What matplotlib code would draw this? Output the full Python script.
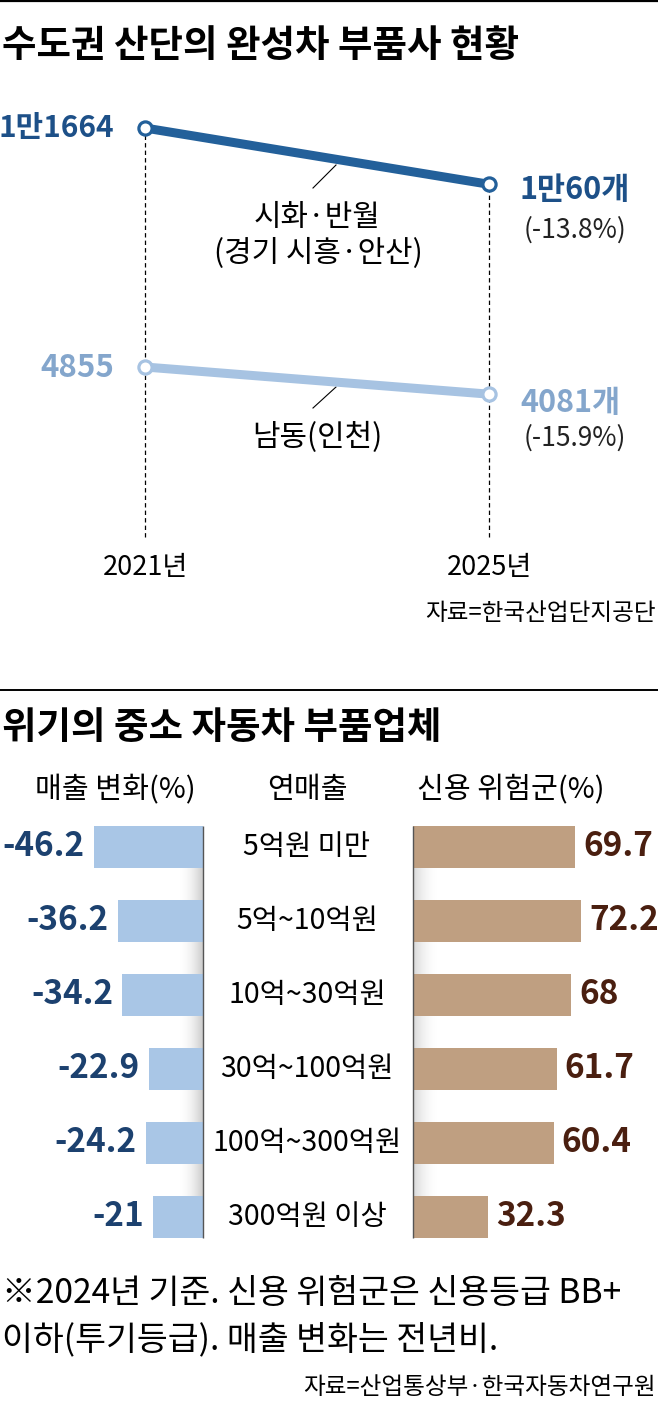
import numpy as np
import matplotlib
matplotlib.use('Agg')
import matplotlib.pyplot as plt

plt.rcParams['font.family'] = ['Noto Sans CJK KR', 'DejaVu Sans']

W, H = 658, 1419

# 위쪽 그래프: 수도권 산단 완성차 부품사 수
years = [2021, 2025]
sihwa = [11664, 10060]
namdong = [4855, 4081]
sihwa_labels = ['1만1664', '1만60개']
namdong_labels = ['4855', '4081개']
sihwa_change = '(-13.8%)'
namdong_change = '(-15.9%)'

# 아래쪽 그래프: 연매출 구간별
revenue_groups = ['5억원 미만', '5억~10억원', '10억~30억원', '30억~100억원', '100억~300억원', '300억원 이상']
sales_change = [-46.2, -36.2, -34.2, -22.9, -24.2, -21]
credit_risk = [69.7, 72.2, 68, 61.7, 60.4, 32.3]

dark_blue = '#23609a'
light_blue = '#a7c3e2'
bar_blue = '#a9c6e6'
bar_brown = '#bf9f81'
txt_blue = '#1c416f'
txt_brown = '#4a1f10'

fig = plt.figure(figsize=(W / 100, H / 100), dpi=100)
bg = fig.add_axes([0, 0, 1, 1])
bg.set_xlim(0, W)
bg.set_ylim(H, 0)
bg.axis('off')


def px_axes(left, top, right, bottom):
    a = fig.add_axes([left / W, 1 - bottom / H, (right - left) / W, (bottom - top) / H])
    a.patch.set_visible(False)
    a.axis('off')
    return a


# 구분선, 제목
bg.plot([0, W], [1, 1], color='black', lw=1.6)
bg.plot([0, W], [690, 690], color='black', lw=1.4)
bg.text(2, 45, '수도권 산단의 완성차 부품사 현황', fontsize=27, weight='bold', va='center')
bg.text(2, 727, '위기의 중소 자동차 부품업체', fontsize=27, weight='bold', va='center')

# ---- 선 그래프 ----
top_px, bot_px = 128, 537
scale = (367 - 128) / (sihwa[0] - namdong[0])
ymin = sihwa[0] - (bot_px - top_px) / scale
ax = px_axes(145, top_px, 489, bot_px)
ax.set_xlim(years[0], years[1])
ax.set_ylim(ymin, sihwa[0])

for i, yr in enumerate(years):
    ax.vlines(yr, ymin, sihwa[i], colors='black', lw=0.9, linestyles=(0, (3.5, 2.5)),
              clip_on=False, zorder=1)
    ax.annotate(f'{yr}년', xy=(yr, ymin), xytext=(0, -30), textcoords='offset pixels',
                ha='center', va='center', fontsize=19.5)

for vals, col in [(sihwa, dark_blue), (namdong, light_blue)]:
    ax.plot(years, vals, color=col, lw=6.5, solid_capstyle='butt', marker='o', ms=9.5,
            mfc='white', mec=col, mew=2.3, clip_on=False, zorder=3)

ax.annotate(sihwa_labels[0], xy=(years[0], sihwa[0]), xytext=(-31, 0), textcoords='offset pixels',
            ha='right', va='center', fontsize=21.5, weight='bold', color='#1d5088')
ax.annotate(sihwa_labels[1], xy=(years[1], sihwa[1]), xytext=(31, -6), textcoords='offset pixels',
            ha='left', va='center', fontsize=22, weight='bold', color='#1d5088')
ax.annotate(sihwa_change, xy=(years[1], sihwa[1]), xytext=(35, -46), textcoords='offset pixels',
            ha='left', va='center', fontsize=19, color='#222222')
ax.annotate(namdong_labels[0], xy=(years[0], namdong[0]), xytext=(-31, -1), textcoords='offset pixels',
            ha='right', va='center', fontsize=22.5, weight='bold', color='#84a6cc')
ax.annotate(namdong_labels[1], xy=(years[1], namdong[1]), xytext=(31, -9), textcoords='offset pixels',
            ha='left', va='center', fontsize=22, weight='bold', color='#84a6cc')
ax.annotate(namdong_change, xy=(years[1], namdong[1]), xytext=(35, -44), textcoords='offset pixels',
            ha='left', va='center', fontsize=19, color='#222222')

# 지역 이름과 지시선
bg.plot([313, 336], [188, 165], color='black', lw=0.8)
bg.text(317, 218, '시화·반월', fontsize=21.5, ha='center', va='center')
bg.text(318, 253, '(경기 시흥·안산)', fontsize=21.5, ha='center', va='center')
bg.plot([313, 336], [408, 387], color='black', lw=0.8)
bg.text(317, 437, '남동(인천)', fontsize=21.5, ha='center', va='center')
bg.text(656, 614, '자료=한국산업단지공단', fontsize=17, ha='right', va='center')

# ---- 막대 그래프 ----
bg.text(115, 790, '매출 변화(%)', fontsize=21, ha='center', va='center')
bg.text(307, 790, '연매출', fontsize=21, ha='center', va='center')
bg.text(511, 790, '신용 위험군(%)', fontsize=21, ha='center', va='center')

# 가운데 칸 그림자
grad = np.linspace(0, 1, 60)
shade = np.zeros((1, 60, 4))
shade[..., :3] = 0.55
shade[0, :, 3] = 0.45 * grad ** 2
bg.imshow(shade, extent=(178, 203, 1238, 826), aspect='auto', zorder=0)
shade_r = shade[:, ::-1, :].copy()
shade_r[0, :, 3] = 0.35 * grad[::-1] ** 2
bg.imshow(shade_r, extent=(413, 440, 1238, 826), aspect='auto', zorder=0)
bg.set_xlim(0, W)
bg.set_ylim(H, 0)

row_top, row_bot = 810, 1254
bar_h = 0.57
rows = np.arange(len(revenue_groups))

axl = px_axes(0, row_top, 203, row_bot)
axl.set_xlim(-203 / 2.36, 0)
axl.set_ylim(len(rows) - 0.5, -0.5)
axl.barh(rows, sales_change, height=bar_h, color=bar_blue)
axl.vlines(0, -bar_h / 2, rows[-1] + bar_h / 2, colors='#555555', lw=1, clip_on=False)
for i, v in enumerate(sales_change):
    axl.annotate(f'{v:g}', xy=(v, i), xytext=(-9, 0), textcoords='offset pixels',
                 ha='right', va='center', fontsize=24, weight='bold', color=txt_blue)

axr = px_axes(413, row_top, W, row_bot)
axr.set_xlim(0, (W - 413) / 2.33)
axr.set_ylim(len(rows) - 0.5, -0.5)
axr.barh(rows, credit_risk, height=bar_h, color=bar_brown)
axr.vlines(0, -bar_h / 2, rows[-1] + bar_h / 2, colors='#555555', lw=1, clip_on=False)
for i, v in enumerate(credit_risk):
    axr.annotate(f'{v:g}', xy=(v, i), xytext=(8, 0), textcoords='offset pixels',
                 ha='left', va='center', fontsize=24, weight='bold', color=txt_brown)
    axr.annotate(revenue_groups[i], xy=(0, i), xytext=(-106, 0), textcoords='offset pixels',
                 ha='center', va='center', fontsize=20.5)

bg.text(2, 1293, '※2024년 기준. 신용 위험군은 신용등급 BB+', fontsize=24.2, va='center')
bg.text(2, 1340, '이하(투기등급). 매출 변화는 전년비.', fontsize=24.2, va='center')
bg.text(656, 1387, '자료=산업통상부·한국자동차연구원', fontsize=17, ha='right', va='center')

fig.savefig('out.png', dpi=100)
